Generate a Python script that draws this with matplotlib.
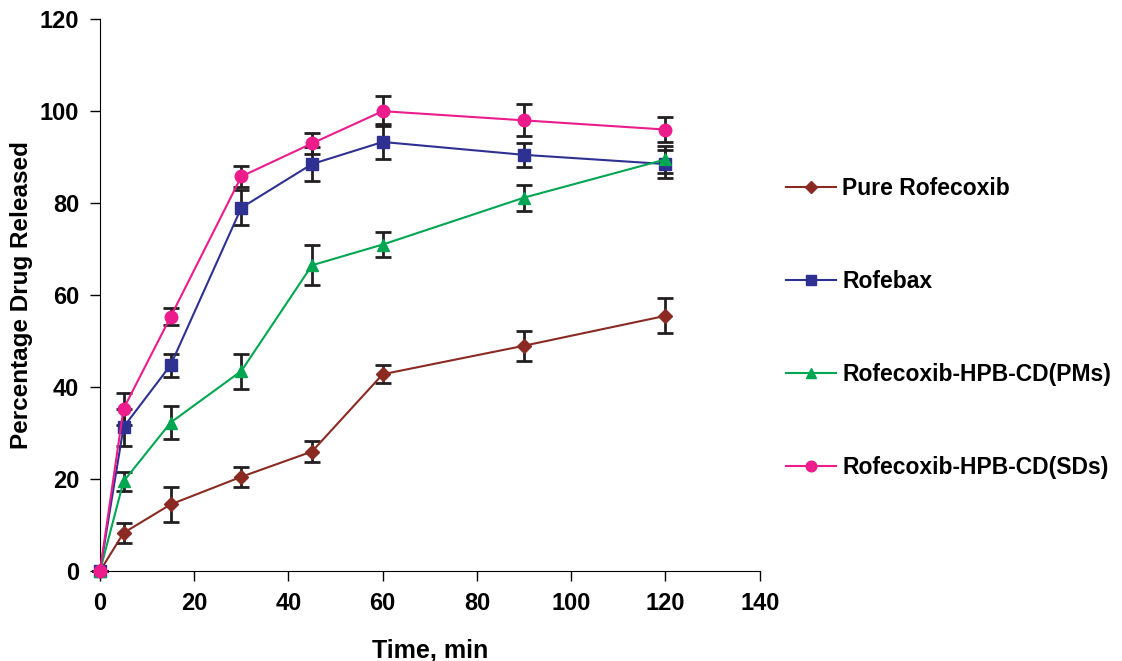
import matplotlib
matplotlib.use('Agg')
from matplotlib import pyplot as plt

plt.rcParams['font.family'] = ['Liberation Sans', 'DejaVu Sans']
plt.rcParams['font.weight'] = 'bold'

# time points (min)
time = [0, 5, 15, 30, 45, 60, 90, 120]

# percentage drug released and standard deviations
pure = [0, 8.3, 14.5, 20.5, 26.0, 42.8, 49.0, 55.5]
pure_err = [0, 2.2, 3.8, 2.2, 2.3, 2.0, 3.3, 3.8]

rofebax = [0, 31.3, 44.8, 79.0, 88.5, 93.3, 90.5, 88.5]
rofebax_err = [0, 4.0, 2.5, 3.8, 3.6, 3.8, 2.6, 3.0]

pms = [0, 19.5, 32.3, 43.5, 66.5, 71.0, 81.2, 89.5]
pms_err = [0, 2.0, 3.5, 3.8, 4.4, 2.8, 2.8, 3.0]

sds = [0, 35.3, 55.3, 85.8, 93.0, 100.0, 98.0, 96.0]
sds_err = [0, 3.5, 1.8, 2.3, 2.3, 3.2, 3.5, 2.8]

labels = ['Pure Rofecoxib', 'Rofebax', 'Rofecoxib-HPB-CD(PMs)', 'Rofecoxib-HPB-CD(SDs)']
colors = ['#8b2a22', '#2e3192', '#00a651', '#ec1c8c']
markers = ['D', 's', '^', 'o']
sizes = [7, 8, 9, 9]

fig = plt.figure(figsize=(11.22, 6.61), dpi=100)
ax = fig.add_axes([0.0891, 0.136, 0.588, 0.835])

series = [(pure, pure_err), (rofebax, rofebax_err), (pms, pms_err), (sds, sds_err)]
for (y, e), lab, c, m, s in zip(series, labels, colors, markers, sizes):
    ax.errorbar(time, y, yerr=e, fmt='none', ecolor='#231f20', elinewidth=2,
                capsize=6, capthick=2, zorder=2, clip_on=False)
    ax.plot(time, y, color=c, marker=m, markersize=s, linewidth=1.5,
            label=lab, zorder=3, clip_on=False)

ax.set_xlim(0, 140)
ax.set_ylim(0, 120)
ax.set_xticks(range(0, 141, 20))
ax.set_yticks(range(0, 121, 20))
ax.spines['top'].set_visible(False)
ax.spines['right'].set_visible(False)
ax.tick_params(direction='out', length=7, width=1, labelsize=17, pad=8)
ax.set_xlabel('Time, min', fontsize=18, fontweight='bold', labelpad=17)
ax.set_ylabel('Percentage Drug Released', fontsize=17.5, fontweight='bold', labelpad=5)

leg = ax.legend(loc='center left', bbox_to_anchor=(1.009, 0.441), frameon=False,
                fontsize=16.5, labelspacing=3.05, handlelength=2.15, handletextpad=0.3,
                markerscale=0.85)

fig.savefig('out.png', dpi=100)
